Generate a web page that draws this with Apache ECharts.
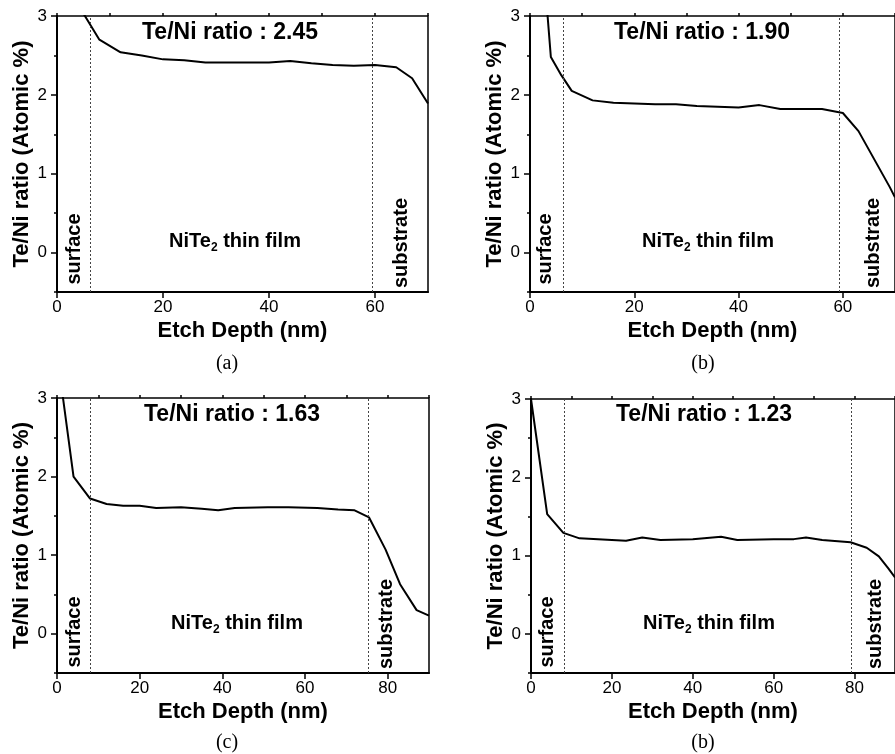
<!DOCTYPE html>
<html>
<head>
<meta charset="utf-8">
<script src="https://cdn.jsdelivr.net/npm/echarts@6/dist/echarts.min.js"></script>
<style>
  html, body { margin: 0; padding: 0; background: #fff; }
  #chart { width: 895px; height: 754px; }
</style>
</head>
<body>
<div id="chart"></div>
<script>
// panel (a)
const depthA = [0, 8, 12, 16, 20, 24, 28, 32, 36, 40, 44, 48, 52, 56, 60, 64, 67, 70]
const ratioA = [3.58, 2.70, 2.54, 2.50, 2.45, 2.44, 2.41, 2.41, 2.41, 2.41, 2.43, 2.40, 2.38, 2.37, 2.38, 2.35, 2.21, 1.89]
// panel (b)
const depthB = [0, 4, 6, 8, 12, 16, 20, 24, 28, 32, 36, 40, 44, 48, 52, 56, 60, 63, 69, 70]
const ratioB = [5.8, 2.48, 2.25, 2.05, 1.93, 1.90, 1.89, 1.88, 1.88, 1.86, 1.85, 1.84, 1.87, 1.82, 1.82, 1.82, 1.77, 1.54, 0.83, 0.70]
// panel (c)
const depthC = [0, 4, 8, 12, 16, 20, 24, 30, 35, 39, 43, 51, 56, 63, 68, 72, 75.5, 79.5, 83, 87, 90]
const ratioC = [3.57, 2.00, 1.72, 1.65, 1.63, 1.63, 1.60, 1.61, 1.59, 1.57, 1.60, 1.61, 1.61, 1.60, 1.58, 1.57, 1.48, 1.07, 0.63, 0.30, 0.23]
// panel (d)
const depthD = [0, 4, 8, 12, 20, 23.5, 27.5, 32, 40, 47, 51, 60, 65, 68, 72, 79, 83, 86, 88.3, 90]
const ratioD = [3.0, 1.53, 1.29, 1.22, 1.20, 1.19, 1.23, 1.20, 1.21, 1.24, 1.20, 1.21, 1.21, 1.23, 1.20, 1.17, 1.10, 0.99, 0.84, 0.72]

const xMax = [70, 70, 90, 90]
const boundaries = [[6.3, 59.4], [6.3, 59.3], [8.1, 75.4], [8.1, 79.2]]
const ratioTitles = ['Te/Ni ratio : 2.45', 'Te/Ni ratio : 1.90', 'Te/Ni ratio : 1.63', 'Te/Ni ratio : 1.23']
const captions = ['(a)', '(b)', '(c)', '(b)']
const yLabels = [0, 1, 2, 3]

const FONT = '"Liberation Sans", Arial, sans-serif'
const zip = (xs, ys) => xs.map((x, i) => [x, ys[i]])
const seriesData = [zip(depthA, ratioA), zip(depthB, ratioB), zip(depthC, ratioC), zip(depthD, ratioD)]

const grids = [
  { left: 57, top: 16, width: 371, height: 276 },
  { left: 530, top: 16, width: 371, height: 276 },
  { left: 57, top: 398, width: 372, height: 275 },
  { left: 531, top: 399, width: 371, height: 274 }
]
// where the panel texts sit
const textPos = [
  { title: [230, 33], film: [235, 241], surface: [74, 249], substrate: [401, 243], cap: [227, 364] },
  { title: [702, 33], film: [708, 241], surface: [545, 249], substrate: [873, 243], cap: [703, 364] },
  { title: [232, 415], film: [237, 623], surface: [74, 632], substrate: [386, 624], cap: [227, 743] },
  { title: [704, 415], film: [709, 623], surface: [547, 632], substrate: [875, 624], cap: [703, 743] }
]

const xAxis = []
const yAxis = []
const series = []
const graphic = []

grids.forEach((g, i) => {
  g.show = true
  g.borderColor = '#000'
  g.borderWidth = 1.5
  g.containLabel = false

  // main x axis
  xAxis.push({
    type: 'value', gridIndex: i, min: 0, max: xMax[i], interval: 20,
    name: 'Etch Depth (nm)', nameLocation: 'middle', nameGap: 28,
    nameTextStyle: { fontFamily: FONT, fontWeight: 'bold', fontSize: 22, color: '#000' },
    axisLine: { onZero: false, lineStyle: { color: '#000', width: 2 } },
    axisTick: { length: 6, lineStyle: { color: '#000', width: 1.5 } },
    axisLabel: { margin: 7, fontFamily: FONT, fontSize: 17, color: '#000', showMaxLabel: false },
    splitLine: { show: false }
  })
  // minor x ticks
  xAxis.push({
    type: 'value', gridIndex: i, min: 0, max: xMax[i], interval: 10,
    axisLine: { show: false, onZero: false },
    axisTick: { length: 3, lineStyle: { color: '#000', width: 1.5 } },
    axisLabel: { show: false },
    splitLine: { show: false }
  })
  // main y axis
  yAxis.push({
    type: 'value', gridIndex: i, min: -0.5, max: 3, interval: 0.5,
    name: 'Te/Ni ratio (Atomic %)', nameLocation: 'middle', nameGap: 24,
    nameTextStyle: { fontFamily: FONT, fontWeight: 'bold', fontSize: 22, color: '#000' },
    axisLine: { show: true, onZero: false, lineStyle: { color: '#000', width: 2 } },
    axisTick: { show: true, length: 6, customValues: yLabels, lineStyle: { color: '#000', width: 1.5 } },
    axisLabel: {
      margin: 10, fontFamily: FONT, fontSize: 17, color: '#000', customValues: yLabels,
      formatter: v => (Number.isInteger(v) ? String(v) : '')
    },
    splitLine: { show: false }
  })
  // minor y ticks
  yAxis.push({
    type: 'value', gridIndex: i, position: 'left', min: -0.5, max: 3, interval: 0.5,
    axisLine: { show: false, onZero: false },
    axisTick: { show: true, length: 3, lineStyle: { color: '#000', width: 1.5 } },
    axisLabel: { show: false },
    splitLine: { show: false }
  })

  series.push({
    type: 'line',
    xAxisIndex: i * 2,
    yAxisIndex: i * 2,
    data: seriesData[i],
    symbol: 'none',
    clip: true,
    lineStyle: { color: '#000', width: 2 },
    markLine: {
      silent: true,
      symbol: 'none',
      label: { show: false },
      lineStyle: { color: '#444', width: 1, type: [2, 2] },
      data: boundaries[i].map(b => ({ xAxis: b }))
    },
    z: 3
  })

  const p = textPos[i]
  graphic.push({
    type: 'text', x: p.title[0], y: p.title[1],
    style: { text: ratioTitles[i], font: 'bold 23px ' + FONT, fill: '#000', align: 'center', verticalAlign: 'middle' }
  })
  graphic.push({
    type: 'text', x: p.film[0], y: p.film[1],
    style: {
      text: '{n|NiTe}{s|2}{n| thin film}',
      align: 'center', verticalAlign: 'middle', fill: '#000',
      rich: {
        n: { fontFamily: FONT, fontWeight: 'bold', fontSize: 20, fill: '#000' },
        s: { fontFamily: FONT, fontWeight: 'bold', fontSize: 12, fill: '#000', padding: [14, 0, 0, 0] }
      }
    }
  })
  graphic.push({
    type: 'text', x: p.surface[0], y: p.surface[1], rotation: Math.PI / 2,
    style: { text: 'surface', font: 'bold 20px ' + FONT, fill: '#000', align: 'center', verticalAlign: 'middle' }
  })
  graphic.push({
    type: 'text', x: p.substrate[0], y: p.substrate[1], rotation: Math.PI / 2,
    style: { text: 'substrate', font: 'bold 20px ' + FONT, fill: '#000', align: 'center', verticalAlign: 'middle' }
  })
  graphic.push({
    type: 'text', x: p.cap[0], y: p.cap[1],
    style: { text: captions[i], font: '20px "Liberation Serif", "Times New Roman", serif', fill: '#000', align: 'center', verticalAlign: 'middle' }
  })
})

const myChart = echarts.init(document.getElementById('chart'), null, { renderer: 'canvas' })
myChart.setOption({
  animation: false,
  backgroundColor: '#fff',
  grid: grids,
  xAxis: xAxis,
  yAxis: yAxis,
  series: series,
  graphic: graphic
})
</script>
</body>
</html>
